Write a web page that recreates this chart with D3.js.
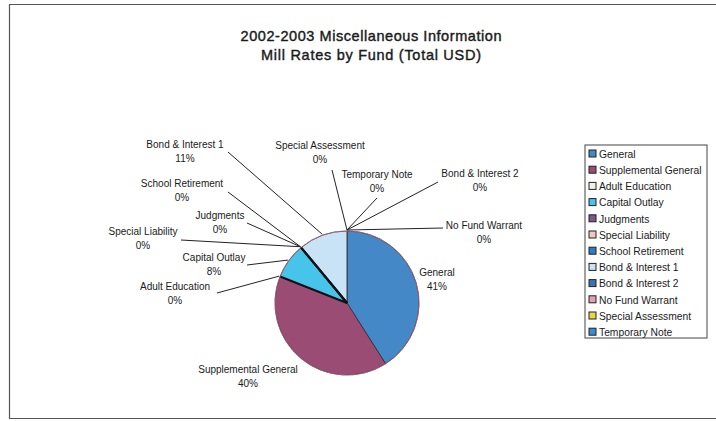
<!DOCTYPE html>
<html>
<head>
<meta charset="utf-8">
<script src="https://cdn.jsdelivr.net/npm/d3@7"></script>
<style>
  html, body { margin: 0; padding: 0; background: #fff; }
  svg { display: block; font-family: "Liberation Sans", Arial, sans-serif; }
</style>
</head>
<body>
<svg id="chart" width="716" height="421"></svg>
<script>
// Fund categories in drawing order (clockwise from 12 o'clock)
const categories = [
  "General", "Supplemental General", "Adult Education", "Capital Outlay",
  "Judgments", "Special Liability", "School Retirement", "Bond & Interest 1",
  "Bond & Interest 2", "No Fund Warrant", "Special Assessment", "Temporary Note"
];
// Share of total mill rate, percent
const shares = [41, 40, 0, 8, 0, 0, 0, 11, 0, 0, 0, 0];
const fundColors = [
  "#4588c8", "#9a4c74", "#f4f2e4", "#46c4ea",
  "#7a5a88", "#f0c8c0", "#2f7cc0", "#c8e2f6",
  "#3a72b8", "#e0a0b8", "#e8d840", "#3a8ed0"
];
const titleLines = ["2002-2003 Miscellaneous Information", "Mill Rates by Fund (Total USD)"];

// Label anchor placement (text center x, first-line baseline y, leader start)
const labelLayout = {
  "General":              { x: 437, y: 276, line: null },
  "Supplemental General": { x: 248, y: 373, line: null },
  "Adult Education":      { x: 175, y: 290, line: [217, 293] },
  "Capital Outlay":       { x: 214, y: 261, line: [247, 265] },
  "Judgments":            { x: 220, y: 219, line: [247, 223] },
  "Special Liability":    { x: 143, y: 235, line: [181, 240] },
  "School Retirement":    { x: 182, y: 187, line: [228, 192] },
  "Bond & Interest 1":    { x: 185, y: 148, line: [228, 152] },
  "Bond & Interest 2":    { x: 480, y: 177, line: [438, 182] },
  "No Fund Warrant":      { x: 484, y: 229, line: [443, 228] },
  "Special Assessment":   { x: 320, y: 149, line: [332, 170] },
  "Temporary Note":       { x: 377, y: 178, line: [377, 198] }
};

const svg = d3.select("#chart");

// Outer chart frame (right edge runs past the window)
svg.append("path")
  .attr("d", "M 720 4.5 L 9.5 4.5 L 9.5 418.5 L 720 418.5")
  .attr("fill", "none").attr("stroke", "#555").attr("stroke-width", 1.2);

// Title
svg.append("g").selectAll("text").data(titleLines).join("text")
  .attr("x", 371).attr("y", (d, i) => 41 + i * 19)
  .attr("text-anchor", "middle")
  .attr("font-size", 14.5).attr("fill", "#1a1a1a")
  .attr("stroke", "#1a1a1a").attr("stroke-width", 0.4)
  .attr("textLength", (d, i) => i === 0 ? 261 : 220)
  .text(d => d);

// Pie
const cx = 347, cy = 303, r = 72;
const data = categories.map((c, i) => ({ name: c, value: shares[i], color: fundColors[i] }));
const pie = d3.pie().value(d => d.value).sort(null).startAngle(0).endAngle(2 * Math.PI);
const arcs = pie(data);
const arc = d3.arc().innerRadius(0).outerRadius(r);

const g = svg.append("g").attr("transform", `translate(${cx},${cy})`);
g.selectAll("path").data(arcs.filter(a => a.data.value > 0)).join("path")
  .attr("d", arc)
  .attr("fill", d => d.data.color)
  .attr("stroke", "#333").attr("stroke-width", 0.9);

// Zero-width funds appear as a dark radial stroke
g.selectAll("line.zero").data(arcs.filter(a => a.data.value === 0 && a.startAngle > 0 && a.startAngle < 2 * Math.PI)).join("line")
  .attr("class", "zero")
  .attr("x1", 0).attr("y1", 0)
  .attr("x2", d => r * Math.sin(d.startAngle))
  .attr("y2", d => -r * Math.cos(d.startAngle))
  .attr("stroke", "#111").attr("stroke-width", 2);

// Faint pink rim around the pie
g.append("circle").attr("r", r).attr("fill", "none")
  .attr("stroke", "#d07090").attr("stroke-width", 0.8).attr("opacity", 0.8);

// Leader lines and labels
const labels = svg.append("g");
arcs.forEach(a => {
  const L = labelLayout[a.data.name];
  const mid = (a.startAngle + a.endAngle) / 2;
  if (L.line) {
    const ex = cx + (r + 1) * Math.sin(mid), ey = cy - (r + 1) * Math.cos(mid);
    labels.append("line")
      .attr("x1", L.line[0]).attr("y1", L.line[1])
      .attr("x2", ex).attr("y2", ey)
      .attr("stroke", "#222").attr("stroke-width", 1);
  }
  const t = labels.append("text")
    .attr("text-anchor", "middle").attr("font-size", 10).attr("fill", "#1a1a1a");
  t.append("tspan").attr("x", L.x).attr("y", L.y).text(a.data.name);
  t.append("tspan").attr("x", L.x).attr("y", L.y + 13.5).text(d3.format(".0%")(a.data.value / 100));
});

// Legend
const legend = svg.append("g").attr("transform", "translate(585,145)");
legend.append("rect").attr("width", 122).attr("height", 193)
  .attr("fill", "#fff").attr("stroke", "#444").attr("stroke-width", 1);
const item = legend.selectAll("g.item").data(data).join("g")
  .attr("class", "item")
  .attr("transform", (d, i) => `translate(4,${5 + i * 16.2})`);
item.append("rect").attr("width", 7).attr("height", 7)
  .attr("fill", d => d.color).attr("stroke", "#222").attr("stroke-width", 1);
item.append("text").attr("x", 10).attr("y", 7.8)
  .attr("font-size", 10.3).attr("fill", "#1a1a1a")
  .text(d => d.name);
</script>
</body>
</html>
